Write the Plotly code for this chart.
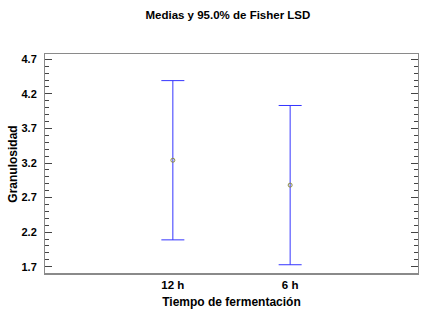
import plotly.graph_objects as go

categories = ["12 h", "6 h"]
means = [3.24, 2.88]
lsd_half = [1.152, 1.152]
y_ticks = [1.7, 2.2, 2.7, 3.2, 3.7, 4.2, 4.7]

font_family = "Liberation Sans, Arial, sans-serif"

fig = go.Figure()
fig.add_trace(go.Scatter(
    x=[0, 1], y=means, mode="markers",
    marker=dict(symbol="circle-open", size=4, color="#8a8a40", line=dict(width=1, color="#8a8a40")),
    error_y=dict(type="data", array=lsd_half, symmetric=True, color="#3535ff", thickness=1, width=11.5),
    showlegend=False, hoverinfo="skip",
))

fig.update_layout(
    width=430, height=318,
    margin=dict(l=45, r=12, t=54, b=44, autoexpand=False),
    paper_bgcolor="white", plot_bgcolor="white",
    title=dict(text="Medias y 95.0% de Fisher LSD", xref="container", x=0.53, xanchor="center",
               yref="container", y=0.953, yanchor="middle", automargin=False,
               font=dict(family=font_family, size=11.5, color="black", weight="bold")),
    xaxis=dict(
        range=[-1.09, 2.09], tickmode="array", tickvals=[0, 1], ticktext=categories,
        showgrid=False, zeroline=False, ticks="", showline=True, mirror=True,
        linecolor="#8a8a8a", linewidth=1, automargin=False,
        tickfont=dict(family=font_family, size=11.5, color="black", weight="bold"),
        title=dict(text="Tiempo de fermentación", standoff=7,
                   font=dict(family=font_family, size=12, color="black", weight="bold")),
    ),
    yaxis=dict(
        range=[1.594, 4.777], tickmode="array", tickvals=y_ticks, ticktext=[f"{v:.1f}" for v in y_ticks],
        showgrid=False, zeroline=False, ticks="inside", ticklen=7, tickcolor="#444444", tickwidth=1,
        minor=dict(ticks="inside", ticklen=4, dtick=0.1, tick0=1.7, tickcolor="#444444", showgrid=False),
        showline=True, mirror="ticks", linecolor="#8a8a8a", linewidth=1, automargin=False,
        ticklabelstandoff=5,
        tickfont=dict(family=font_family, size=11, color="black", weight="bold"),
        title=dict(text="Granulosidad", standoff=1,
                   font=dict(family=font_family, size=12, color="black", weight="bold")),
    ),
    shapes=[dict(type="line", xref="paper", yref="paper", x0=0, x1=1, y0=0, y1=0,
                 line=dict(color="#8a8a8a", width=2))],
)

fig.write_html(
    "out.html",
    config={"displayModeBar": False},
    post_script="document.body.style.margin='0';document.body.style.overflow='hidden';",
)
